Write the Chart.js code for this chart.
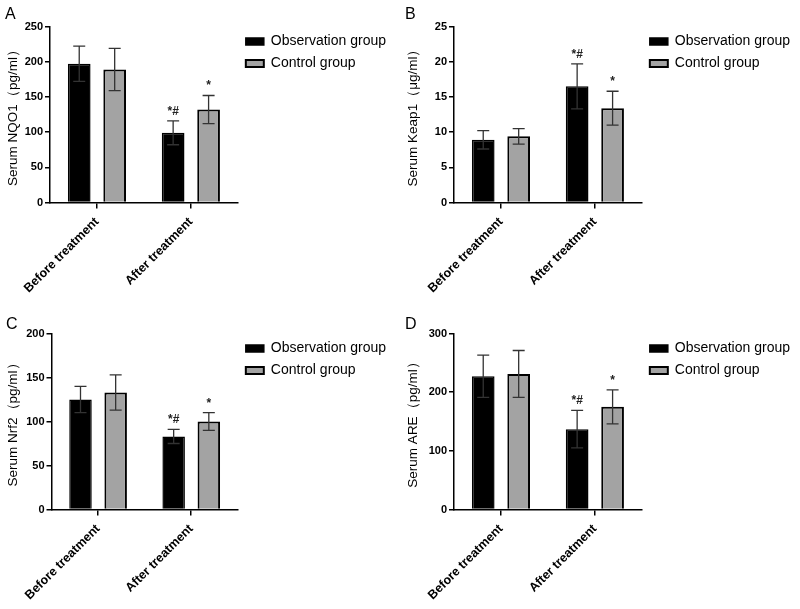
<!DOCTYPE html>
<html>
<head>
<meta charset="utf-8">
<script src="https://cdn.jsdelivr.net/npm/chart.js@4/dist/chart.umd.min.js"></script>
<style>
  body { margin: 0; background: #fff; width: 800px; height: 609px; position: relative; overflow: hidden; font-family: "Liberation Sans", Arial, sans-serif; }
  .panel { position: absolute; width: 400px; height: 300px; }
  .letter { position: absolute; font-size: 16px; line-height: 16px; color: #000; }
</style>
</head>
<body>
<div class="panel" style="left:0;top:0"><canvas id="chartA" width="400" height="300"></canvas></div>
<div class="panel" style="left:400px;top:0"><canvas id="chartB" width="400" height="300"></canvas></div>
<div class="panel" style="left:0;top:307px"><canvas id="chartC" width="400" height="300"></canvas></div>
<div class="panel" style="left:400px;top:307px"><canvas id="chartD" width="400" height="300"></canvas></div>
<div class="letter" style="left:5px;top:6px">A</div>
<div class="letter" style="left:405px;top:6px">B</div>
<div class="letter" style="left:6px;top:316px">C</div>
<div class="letter" style="left:405px;top:316px">D</div>
<script>
const categories = ["Before treatment", "After treatment"];
const groupNames = ["Observation group", "Control group"];

// A: NQO1
const nqo1Obs = [197, 99];
const nqo1ObsSd = [25, 17];
const nqo1Ctrl = [189, 132];
const nqo1CtrlSd = [30, 20];

// B: Keap1
const keap1Obs = [8.9, 16.5];
const keap1ObsSd = [1.3, 3.2];
const keap1Ctrl = [9.4, 13.4];
const keap1CtrlSd = [1.1, 2.4];

// C: Nrf2
const nrf2Obs = [125, 83];
const nrf2ObsSd = [15, 8];
const nrf2Ctrl = [133, 100];
const nrf2CtrlSd = [20, 10];

// D: ARE
const areObs = [227, 137];
const areObsSd = [36, 32];
const areCtrl = [231, 175];
const areCtrlSd = [40, 29];

// significance marks above the bars
const obsMarks = ["", "*#"];
const ctrlMarks = ["", "*"];

const FONT = "'Liberation Sans', Arial, sans-serif";
Chart.defaults.font.family = FONT;

const panels = [
  { id: "chartA", title: "Serum NQO1（pg/ml）", max: 250, step: 50, obs: nqo1Obs, obsSd: nqo1ObsSd, ctrl: nqo1Ctrl, ctrlSd: nqo1CtrlSd, axisLeft: 50, padRight: 4 },
  { id: "chartB", title: "Serum Keap1（μg/ml）", max: 25, step: 5, obs: keap1Obs, obsSd: keap1ObsSd, ctrl: keap1Ctrl, ctrlSd: keap1CtrlSd, axisLeft: 54, padRight: 0 },
  { id: "chartC", title: "Serum Nrf2（pg/ml）", max: 200, step: 50, obs: nrf2Obs, obsSd: nrf2ObsSd, ctrl: nrf2Ctrl, ctrlSd: nrf2CtrlSd, axisLeft: 51.5, padRight: 4 },
  { id: "chartD", title: "Serum ARE（pg/ml）", max: 300, step: 100, obs: areObs, obsSd: areObsSd, ctrl: areCtrl, ctrlSd: areCtrlSd, axisLeft: 54, padRight: 0 }
];

// error bars (mean ± sd) and the marks, drawn through the y scale
const errorBars = {
  id: "errorBars",
  afterDatasetsDraw(chart) {
    const ctx = chart.ctx;
    const yScale = chart.scales.y;
    chart.data.datasets.forEach((ds, di) => {
      const meta = chart.getDatasetMeta(di);
      meta.data.forEach((bar, i) => {
        const v = ds.data[i];
        const sd = ds.sd[i];
        const x = bar.x;
        const yTop = yScale.getPixelForValue(v + sd);
        const yBot = yScale.getPixelForValue(v - sd);
        ctx.save();
        ctx.strokeStyle = "#333";
        ctx.lineWidth = 1.3;
        ctx.beginPath();
        ctx.moveTo(x, yBot);
        ctx.lineTo(x, yTop);
        ctx.moveTo(x - 6, yTop);
        ctx.lineTo(x + 6, yTop);
        ctx.moveTo(x - 6, yBot);
        ctx.lineTo(x + 6, yBot);
        ctx.stroke();
        if (ds.marks[i]) {
          ctx.fillStyle = "#222";
          ctx.font = "bold 12px " + FONT;
          ctx.textAlign = "center";
          ctx.textBaseline = "alphabetic";
          ctx.fillText(ds.marks[i], x, yTop - 6);
        }
        ctx.restore();
      });
    });
  }
};

panels.forEach(p => {
  new Chart(document.getElementById(p.id), {
    type: "bar",
    data: {
      labels: categories,
      datasets: [
        {
          label: groupNames[0], data: p.obs, sd: p.obsSd, marks: obsMarks,
          backgroundColor: "#000", borderColor: "#000", borderWidth: 1.5,
          categoryPercentage: 0.755, barPercentage: 0.64
        },
        {
          label: groupNames[1], data: p.ctrl, sd: p.ctrlSd, marks: ctrlMarks,
          backgroundColor: "#a3a3a3", borderColor: "#000", borderWidth: 2,
          categoryPercentage: 0.755, barPercentage: 0.64
        }
      ]
    },
    options: {
      responsive: false,
      animation: false,
      devicePixelRatio: 1,
      layout: { padding: { top: 26.5, right: p.padRight, left: 0, bottom: 0 } },
      plugins: {
        legend: {
          position: "right",
          align: "start",
          maxWidth: 200,
          labels: { boxWidth: 18, boxHeight: 7, padding: 8, color: "#000", font: { size: 14 } }
        },
        tooltip: { enabled: false }
      },
      scales: {
        x: {
          border: { color: "#000", width: 1.5 },
          grid: { display: true, drawOnChartArea: false, drawTicks: true, tickLength: 6, offset: false, color: "#000", lineWidth: 1.5 },
          ticks: { color: "#000", font: { size: 12.5, weight: "bold" }, minRotation: 45, maxRotation: 45, padding: 6 },
          afterFit: s => { s.height = 97.5; }
        },
        y: {
          min: 0,
          max: p.max,
          border: { color: "#000", width: 1.5 },
          grid: { drawOnChartArea: false, tickLength: 5, color: "#000", lineWidth: 1.5 },
          ticks: { stepSize: p.step, color: "#000", font: { size: 11, weight: "bold" }, padding: 2 },
          title: { display: true, text: p.title, color: "#000", font: { size: 13.5 }, padding: { top: 5, bottom: 0 } },
          afterFit: s => { s.width = p.axisLeft; }
        }
      }
    },
    plugins: [errorBars]
  });
});
</script>
</body>
</html>
